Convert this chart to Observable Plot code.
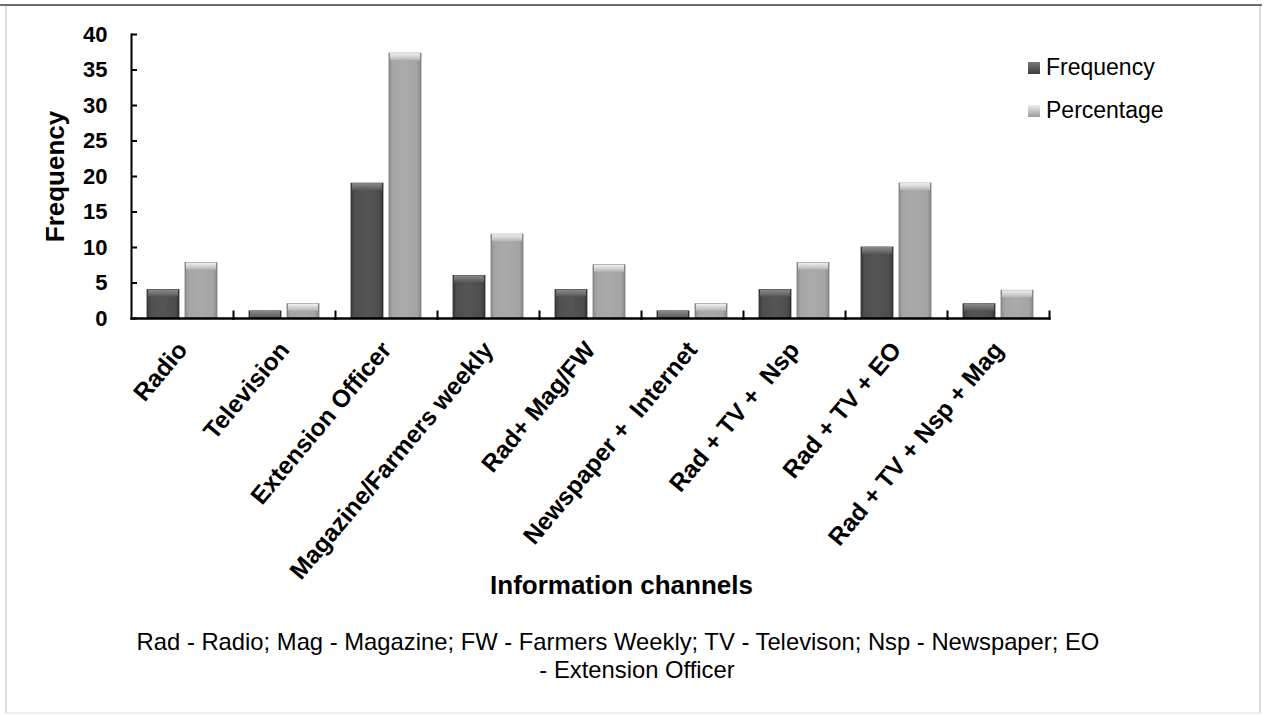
<!DOCTYPE html>
<html>
<head>
<meta charset="utf-8">
<script src="https://cdn.jsdelivr.net/npm/d3@7"></script>
<script src="https://cdn.jsdelivr.net/npm/@observablehq/plot@0.6"></script>
<style>
  html, body { margin: 0; padding: 0; background: #fff; }
  body { font-family: "Liberation Sans", Arial, sans-serif; }
  #wrap { position: relative; width: 1265px; height: 715px; overflow: hidden; background: #fff; }
  #border { position: absolute; left: 5px; top: 4px; width: 1252px; height: 706px;
            border-top: 2px solid #6e6e6e; border-left: 2px solid #dedede;
            border-right: 2px solid #dedede; border-bottom: 2px solid #eeeeee; }
  #topline { position: absolute; left: 0; top: 4px; width: 1262px; height: 2px; background: #6e6e6e; }
  #chart { position: absolute; left: 0; top: 0; }
  #chart svg text { white-space: pre; }
  #legend { position: absolute; left: 1028px; top: 50px; font-size: 23px; color: #000; }
  .lg { position: relative; height: 43px; line-height: 35px; padding-left: 18px; }
  .sw { position: absolute; left: 0; top: 12px; width: 12px; height: 12px; }
  #xtitle { position: absolute; left: 0; width: 1243px; top: 570px; text-align: center;
            font-weight: bold; font-size: 26px; line-height: 30px; }
  .cap { position: absolute; top: 628px; font-size: 23.8px; line-height: 28px; white-space: nowrap; text-align: center; }
</style>
</head>
<body>
<div id="wrap">
  <div id="border"></div>
  <div id="topline"></div>
  <div id="chart"></div>
  <div id="legend"></div>
  <div id="xtitle"></div>
  <div id="cap1" class="cap" style="left:0;width:1236px;"></div>
  <div id="cap2" class="cap" style="left:0;width:1274px;top:656px;"></div>
</div>
<script>
// ---- data ----
const categories = ["Radio", "Television", "Extension Officer", "Magazine/Farmers weekly",
  "Rad+ Mag/FW", "Newspaper +  Internet", "Rad + TV +  Nsp", "Rad + TV + EO", "Rad + TV + Nsp + Mag"];
const seriesNames = ["Frequency", "Percentage"];
const frequency = [4, 1, 19, 6, 4, 1, 4, 10, 2];
const percentage = [7.8, 2, 37.3, 11.8, 7.5, 2, 7.8, 19, 3.9];
const yTicks = [0, 5, 10, 15, 20, 25, 30, 35, 40];
const yTitle = "Frequency";
const xTitle = "Information channels";
const captionLines = ["Rad - Radio; Mag - Magazine; FW - Farmers Weekly; TV - Televison; Nsp - Newspaper; EO",
  "- Extension Officer"];

// ---- table built from arrays ----
const rows = categories.flatMap((c, i) => [
  {channel: c, series: seriesNames[0], value: frequency[i]},
  {channel: c, series: seriesNames[1], value: percentage[i]}
]);

const fills = {Frequency: "url(#gradF)", Percentage: "url(#gradP)"};
const bevels = {Frequency: "url(#bevF)", Percentage: "url(#bevP)"};

const chart = Plot.plot({
  width: 1265,
  height: 615,
  marginLeft: 127,
  marginRight: 212,
  marginTop: 34,
  marginBottom: 297,
  style: {fontFamily: "'Liberation Sans', Arial, sans-serif", color: "#000", background: "transparent", overflow: "visible"},
  fx: {domain: categories, padding: 0, label: null},
  x: {domain: seriesNames, paddingInner: 0.15, paddingOuter: 0.4, axis: null},
  y: {domain: [0, 40], axis: null},
  marks: [
    Plot.barY(rows, {filter: d => d.series === seriesNames[0], fx: "channel", x: "series", y: "value",
      fill: fills.Frequency, stroke: "#2e2e2e", strokeWidth: 0.8}),
    Plot.barY(rows, {filter: d => d.series === seriesNames[1], fx: "channel", x: "series", y: "value",
      fill: fills.Percentage, stroke: "#7a7a7a", strokeWidth: 0.8}),
    Plot.barY(rows, {filter: d => d.series === seriesNames[0], fx: "channel", x: "series", y1: "value", y2: "value",
      insetBottom: -7, insetLeft: 1, insetRight: 1, fill: bevels.Frequency}),
    Plot.barY(rows, {filter: d => d.series === seriesNames[1], fx: "channel", x: "series", y1: "value", y2: "value",
      insetBottom: -7, insetLeft: 1, insetRight: 1, fill: bevels.Percentage}),
    Plot.frame({anchor: "bottom", stroke: "#000", strokeWidth: 2.5}),
    Plot.frame({anchor: "right", stroke: "#000", strokeWidth: 2, insetTop: 277}),
    Plot.frame({anchor: "left", stroke: "#000", strokeWidth: 2, facetAnchor: "left"}),
    Plot.axisY({ticks: yTicks, tickSize: 6, dx: 6, text: null, label: null, stroke: "#000", strokeWidth: 2}),
    Plot.axisY({ticks: yTicks, tickSize: 0, tickPadding: 24, fontSize: 22, fontWeight: "bold",
      label: yTitle, labelAnchor: "center", labelOffset: 86, labelArrow: "none"}),
    Plot.axisFx({anchor: "bottom", tickSize: 0, tickPadding: 27, tickRotate: -50, fontSize: 24.5, fontWeight: "bold", label: null})
  ]
});

// gradients for the bevelled bars
const ns = "http://www.w3.org/2000/svg";
const defs = document.createElementNS(ns, "defs");
function grad(id, horizontal, stops) {
  const g = document.createElementNS(ns, "linearGradient");
  g.setAttribute("id", id);
  g.setAttribute("x1", "0"); g.setAttribute("y1", "0");
  g.setAttribute("x2", horizontal ? "1" : "0"); g.setAttribute("y2", horizontal ? "0" : "1");
  for (const [o, c] of stops) {
    const s = document.createElementNS(ns, "stop");
    s.setAttribute("offset", o); s.setAttribute("stop-color", c);
    g.appendChild(s);
  }
  defs.appendChild(g);
}
grad("gradF", true, [["0", "#3a3a3a"], ["0.12", "#4f4f4f"], ["0.5", "#555555"], ["0.88", "#4d4d4d"], ["1", "#363636"]]);
grad("gradP", true, [["0", "#8c8c8c"], ["0.12", "#a6a6a6"], ["0.5", "#aaaaaa"], ["0.88", "#a3a3a3"], ["1", "#888888"]]);
grad("bevF", false, [["0", "#8a8a8a"], ["1", "#585858"]]);
grad("bevP", false, [["0", "#f2f2f2"], ["1", "#b4b4b4"]]);
chart.insertBefore(defs, chart.firstChild);
// y-axis title in bold, larger
chart.querySelectorAll("g[aria-label='y-axis label'] text").forEach(t => {
  t.setAttribute("font-size", 26); t.setAttribute("font-weight", "bold");
});
document.getElementById("chart").appendChild(chart);

// legend
const legend = document.getElementById("legend");
const swatchBg = {Frequency: "linear-gradient(#7a7a7a, #3c3c3c)", Percentage: "linear-gradient(#eeeeee, #9a9a9a)"};
for (const s of seriesNames) {
  const d = document.createElement("div");
  d.className = "lg";
  d.innerHTML = `<span class="sw" style="background:${swatchBg[s]}"></span>${s}`;
  legend.appendChild(d);
}
document.getElementById("xtitle").textContent = xTitle;
document.getElementById("cap1").textContent = captionLines[0];
document.getElementById("cap2").textContent = captionLines[1];
</script>
</body>
</html>
